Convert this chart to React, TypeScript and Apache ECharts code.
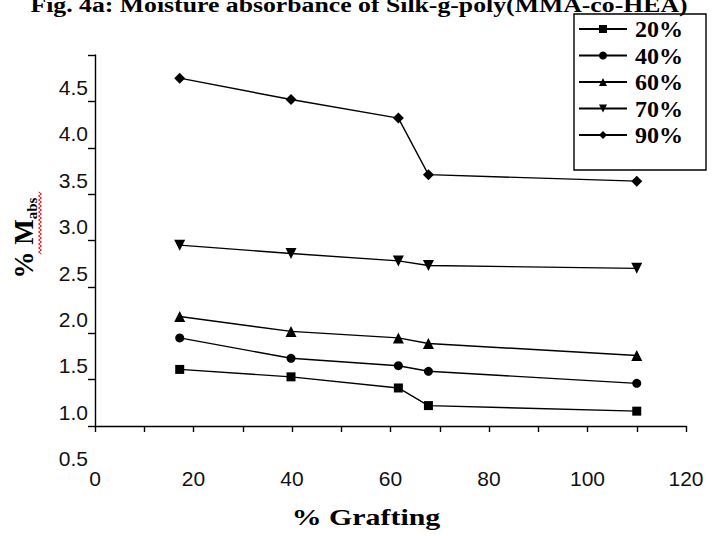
import React, { useEffect, useRef } from "react";
import * as echarts from "echarts";

const grafting = [17.2, 39.8, 61.6, 67.7, 110];
const seriesNames = ["20%", "40%", "60%", "70%", "90%"];
const s20 = [1.11, 1.03, 0.91, 0.72, 0.66];
const s40 = [1.45, 1.23, 1.15, 1.09, 0.96];
const s60 = [1.68, 1.52, 1.45, 1.39, 1.26];
const s70 = [2.45, 2.36, 2.28, 2.23, 2.2];
const s90 = [4.25, 4.02, 3.82, 3.21, 3.14];
const seriesValues = [s20, s40, s60, s70, s90];
const symbols = ["rect", "circle", "triangle", "triangle", "diamond"];
const symbolRotates = [0, 0, 0, 180, 0];
const symbolSizes = [9, 9, 11, 11, 11];

const titleText = "Fig. 4a: Moisture absorbance of Silk-g-poly(MMA-co-HEA)";
const xName = "% Grafting";

export default function App() {
  const ref = useRef<HTMLDivElement>(null);
  useEffect(() => {
    if (!ref.current) return;
    const chart = echarts.init(ref.current, null, { renderer: "svg" });
    const series = seriesNames.map((name, i) => ({
      name,
      type: "line",
      data: grafting.map((g, j) => [g, seriesValues[i][j]]),
      symbol: symbols[i],
      symbolRotate: symbolRotates[i],
      symbolSize: symbolSizes[i],
      showAllSymbol: true,
      lineStyle: { color: "#000", width: 1.4 },
      itemStyle: { color: "#000" },
    }));
    const zig: number[][] = [];
    for (let k = 0; k <= 31; k++) zig.push([k % 2 === 0 ? 38.5 : 41.5, 192 + k * 2]);
    chart.setOption({
      animation: false,
      backgroundColor: "#fff",
      grid: { left: 95, top: 55, right: 27, bottom: 110, containLabel: false },
      xAxis: {
        type: "value",
        min: 0,
        max: 120,
        interval: 10,
        axisLine: { show: true, onZero: false, lineStyle: { color: "#000", width: 1.4 } },
        axisTick: { show: true, length: 6, lineStyle: { color: "#000", width: 1.4 } },
        splitLine: { show: false },
        axisLabel: {
          formatter: (v: number) => (v % 20 === 0 ? String(v) : ""),
          fontFamily: "Liberation Sans",
          fontSize: 21,
          color: "#111",
          margin: 42,
        },
      },
      yAxis: {
        type: "value",
        min: 0.5,
        max: 4.5,
        interval: 0.5,
        axisLine: { show: true, onZero: false, lineStyle: { color: "#000", width: 1.4 } },
        axisTick: { show: true, length: 7, lineStyle: { color: "#000", width: 1.4 } },
        splitLine: { show: false },
        axisLabel: {
          formatter: (v: number) => v.toFixed(1),
          fontFamily: "Liberation Sans",
          fontSize: 21,
          color: "#111",
          margin: 7,
          verticalAlign: "top",
          padding: [22, 0, 0, 0],
        },
      },
      legend: {
        orient: "vertical",
        left: 574,
        top: 14,
        padding: [3, 23, 23, 4],
        itemWidth: 48,
        itemHeight: 10,
        itemGap: 2.5,
        borderColor: "#000",
        borderWidth: 1.4,
        data: seriesNames,
        textStyle: {
          fontFamily: "Liberation Serif",
          fontWeight: "bold",
          fontSize: 24,
          color: "#000",
          lineHeight: 22,
          padding: [0, 0, 0, 3],
        },
      },
      graphic: [
        {
          type: "text",
          x: 359,
          y: 16,
          scaleX: 1.17,
          style: {
            text: titleText,
            fontFamily: "Liberation Serif",
            fontWeight: "bold",
            fontSize: 22,
            fill: "#000",
            align: "center",
            verticalAlign: "bottom",
          },
        },
        {
          type: "text",
          x: 366,
          y: 517,
          scaleX: 1.3,
          style: {
            text: xName,
            fontFamily: "Liberation Serif",
            fontWeight: "bold",
            fontSize: 23,
            fill: "#000",
            align: "center",
            verticalAlign: "middle",
          },
        },
        {
          type: "text",
          x: 24,
          y: 238,
          rotation: Math.PI / 2,
          style: {
            text: "{a|% M}{b|abs}",
            align: "center",
            verticalAlign: "middle",
            rich: {
              a: { fontFamily: "Liberation Serif", fontWeight: "bold", fontSize: 27, fill: "#000", lineHeight: 30, verticalAlign: "middle" },
              b: { fontFamily: "Liberation Serif", fontWeight: "bold", fontSize: 15, fill: "#000", lineHeight: 30, verticalAlign: "bottom" },
            },
          },
        },
        {
          type: "polyline",
          shape: { points: zig },
          style: { stroke: "#e00", lineWidth: 1, fill: "none" },
        },
      ],
      series,
    });
    return () => chart.dispose();
  }, []);
  return (
    <div
      ref={ref}
      style={{ position: "absolute", left: 0, top: 0, width: 713, height: 536, background: "#fff" }}
    />
  );
}
